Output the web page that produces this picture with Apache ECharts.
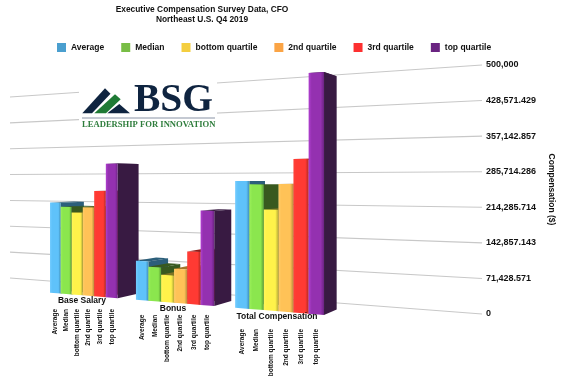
<!DOCTYPE html>
<html><head><meta charset="utf-8">
<style>html,body{margin:0;padding:0;background:#fff}#c{width:564px;height:385px}</style>
<script src="https://cdn.jsdelivr.net/npm/echarts@6/dist/echarts.min.js"></script>
</head><body><div id="c"></div>
<script>
const groupNames = ['Base Salary', 'Bonus', 'Total Compensation'];
const seriesNames = ['Average', 'Median', 'bottom quartile', '2nd quartile', '3rd quartile', 'top quartile'];
const average = [219000, 89000, 272000];
const median = [209000, 77000, 265000];
const bottomQuartile = [196000, 61000, 212000];
const secondQuartile = [209000, 76000, 266000];
const thirdQuartile = [248000, 116000, 318000];
const topQuartile = [312000, 207000, 494000];
const tickValues = [0, 71428.571, 142857.143, 214285.714, 285714.286, 357142.857, 428571.429, 500000];
const tickLabels = ['0', '71,428.571', '142,857.143', '214,285.714', '285,714.286', '357,142.857', '428,571.429', '500,000'];
const allValues = [average, median, bottomQuartile, secondQuartile, thirdQuartile, topQuartile];

const legendColors = ['#4a9fcf', '#78bd45', '#f4ce3f', '#fba445', '#fd3030', '#6a2481'];
const frontColors = [
  ['#74ccff', '#5fc2fa', '#3f8fb8'], ['#9cf05a', '#8be64e', '#5c9e33'], ['#fff65a', '#fff24a', '#b5a838'],
  ['#ffcb66', '#ffc257', '#b98a3c'], ['#ff4038', '#ff3a33', '#b32822'], ['#b03fd0', '#9431b0', '#6a2481']];
const sideColors = ['#2c5f7b', '#38591f', '#7d7425', '#a3762b', '#8f1d19', '#381a42'];

const FONT = '"Liberation Sans", Arial, sans-serif';
const SERIF = '"Liberation Serif", "Times New Roman", serif';
const VP = [640, 178], DEPTH = 0.04, GROUP_STEP = 7.5;
const groupLabelY = [301, 308.5, 317], barLabelY = [309, 314.7, 329], groupLabelX = [82, 173, 277];
const screenX = u => 50 + 10.577 * u + 0.1177 * u * u;
const floorY = x => 292.7 + 0.0814 * (x - 50);
const scaleY = x => 206 + 0.1455 * (x - 50);
const toBack = p => [p[0] + DEPTH * (VP[0] - p[0]), p[1] + DEPTH * (VP[1] - p[1])];

function fracOf(api, v) {
  const c0 = api.coord([0, 0])[1], c1 = api.coord([0, 500000])[1];
  return (c0 - api.coord([0, v])[1]) / (c0 - c1);
}

function barRenderer(j) {
  return function (params, api) {
    const g = api.value(0), v = api.value(1), f = fracOf(api, v);
    const u0 = g * GROUP_STEP + j, u1 = u0 + 1;
    const x0 = screenX(u0), x1 = screenX(u1);
    const b0 = [x0, floorY(x0)], b1 = [x1, floorY(x1)];
    const t0 = [x0, b0[1] - f * scaleY(x0)], t1 = [x1, b1[1] - f * scaleY(x1)];
    const tb0 = toBack(t0), tb1 = toBack(t1), bb1 = toBack(b1);
    const z = g * 20 + j * 2;
    const poly = (pts, fill, dz) => ({ type: 'polygon', z2: z + dz, shape: { points: pts }, style: { fill: fill } });
    const fc = frontColors[j];
    const front = new echarts.graphic.LinearGradient(0, 0, 1, 0, [
      { offset: 0, color: fc[0] }, { offset: 0.2, color: fc[1] }, { offset: 0.78, color: fc[1] }, { offset: 1, color: fc[2] }]);
    const cx = screenX(u0 + 0.5);
    return {
      type: 'group', children: [
        poly([t1, tb1, bb1, b1], sideColors[j], 0),
        poly([t0, t1, tb1, tb0], sideColors[j], 0),
        poly([b0, b1, t1, t0], front, 1),
        { type: 'text', z2: 200, x: cx, y: barLabelY[g], rotation: Math.PI / 2,
          style: { text: seriesNames[j], align: 'right', verticalAlign: 'middle', fontSize: 6.5, fontWeight: 'bold', fontFamily: FONT, fill: '#111' } }
      ]
    };
  };
}

const barSeries = seriesNames.map((name, j) => ({
  name, type: 'custom', coordinateSystem: 'cartesian2d', z: 3,
  itemStyle: { color: legendColors[j] },
  encode: { x: 0, y: 1 }, clip: false, silent: true,
  data: allValues[j].map((v, g) => [g, v]),
  renderItem: barRenderer(j)
}));

const gridSeries = {
  name: 'grid', type: 'custom', coordinateSystem: 'cartesian2d', z: 1, silent: true, clip: false,
  encode: { y: 0 }, data: tickValues.map(v => [v]),
  renderItem(params, api) {
    const f = fracOf(api, api.value(0));
    const right = params.coordSys.x + params.coordSys.width;
    return { type: 'line', shape: { x1: params.coordSys.x, y1: 278 - f * 181, x2: right, y2: api.coord([0, api.value(0)])[1] },
      style: { stroke: '#c8c8c8', lineWidth: 1.1 } };
  }
};

const labelSeries = {
  name: 'groups', type: 'custom', coordinateSystem: 'cartesian2d', z: 4, silent: true, clip: false,
  encode: { x: 0 }, data: groupNames.map((n, i) => [i]),
  renderItem(params, api) {
    const i = api.value(0);
    return { type: 'text', z2: 300, x: groupLabelX[i], y: groupLabelY[i],
      style: { text: groupNames[i], align: 'center', verticalAlign: 'middle', fontSize: 8.5, fontWeight: 'bold', fontFamily: FONT, fill: '#111' } };
  }
};

const logo = [
  { type: 'rect', z: 50, shape: { x: 79, y: 82, width: 138, height: 49 }, style: { fill: '#fff' } },
  { type: 'polygon', z: 51, shape: { points: [[82.3, 113.3], [105, 88.3], [110.5, 93.8], [92, 113.3]] }, style: { fill: '#0f2440' } },
  { type: 'polygon', z: 51, shape: { points: [[94.3, 113.3], [115, 94.3], [120.7, 99.3], [106, 113.3]] }, style: { fill: '#1f7a35' } },
  { type: 'polygon', z: 51, shape: { points: [[107.3, 113.3], [119.3, 104], [130, 113.3]] }, style: { fill: '#0f2440' } },
  { type: 'text', z: 51, x: 134, y: 101, style: { text: 'BSG', fontFamily: SERIF, fontWeight: 'bold', fontSize: 39.5, fill: '#0f2440', verticalAlign: 'middle', align: 'left' } },
  { type: 'rect', z: 51, shape: { x: 82, y: 117.5, width: 133, height: 1 }, style: { fill: '#8a93a6' } },
  { type: 'text', z: 51, x: 82, y: 125, style: { text: 'LEADERSHIP FOR INNOVATION', fontFamily: SERIF, fontWeight: 'bold', fontSize: 8.6, fill: '#2e7d3c', verticalAlign: 'middle', align: 'left' } }
];

const chart = echarts.init(document.getElementById('c'), null, { renderer: 'canvas' });
chart.setOption({
  animation: false, backgroundColor: '#fff',
  title: {
    text: 'Executive Compensation Survey Data, CFO\nNortheast U.S. Q4 2019',
    left: 197, top: -0.5, textAlign: 'center',
    textStyle: { fontSize: 8.4, fontWeight: 'bold', fontFamily: FONT, color: '#111', lineHeight: 10 }
  },
  legend: {
    data: seriesNames, left: 52, top: 38, itemWidth: 9, itemHeight: 9, itemGap: 17, selectedMode: false, icon: 'rect',
    textStyle: { fontSize: 8.5, fontWeight: 'bold', fontFamily: FONT, color: '#111' }
  },
  grid: { left: 10, right: 81, top: 65, bottom: 71 },
  xAxis: { type: 'category', data: groupNames, show: false },
  yAxis: {
    type: 'value', position: 'right', min: 0, max: 500000, interval: 500000 / 7,
    name: 'Compensation ($)', nameLocation: 'middle', nameRotate: -90, nameGap: 62,
    nameTextStyle: { fontSize: 8.5, fontWeight: 'bold', fontFamily: FONT, color: '#111' },
    axisLine: { show: false }, axisTick: { show: false }, splitLine: { show: false },
    axisLabel: { margin: 4, fontSize: 9, fontWeight: 'bold', fontFamily: FONT, color: '#111',
      formatter: (v, i) => tickLabels[i] }
  },
  graphic: logo,
  series: [gridSeries, ...barSeries, labelSeries]
});
</script></body></html>
